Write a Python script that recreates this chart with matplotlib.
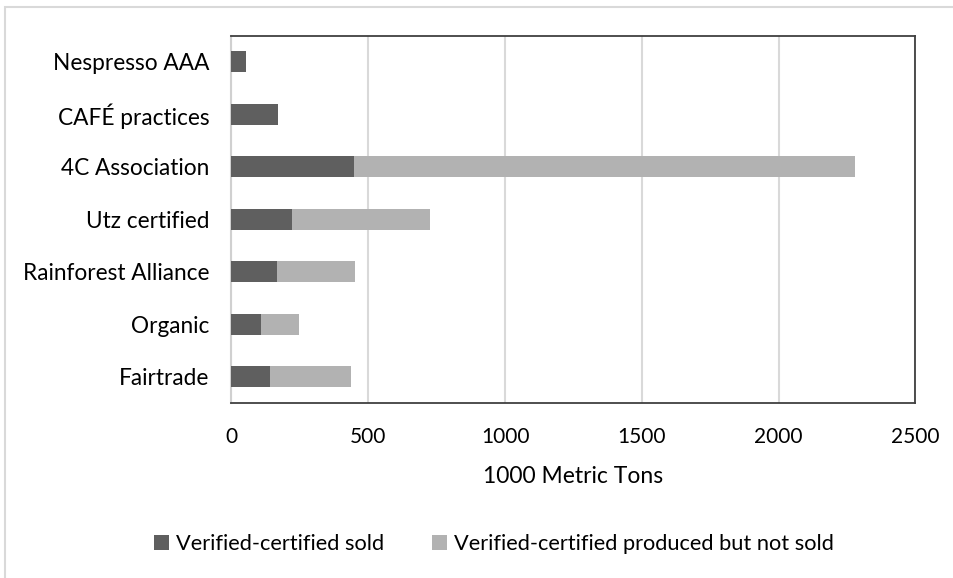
import matplotlib
matplotlib.use("Agg")
import matplotlib.pyplot as plt
from matplotlib.patches import Rectangle
import numpy as np

categories = ["Fairtrade", "Organic", "Rainforest Alliance", "Utz certified",
              "4C Association", "CAFÉ practices", "Nespresso AAA"]
sold = [141, 108, 165, 221, 448, 169, 53]
not_sold = [297, 138, 287, 505, 1832, 0, 0]
xticks = [0, 500, 1000, 1500, 2000, 2500]
series_names = ["Verified-certified sold", "Verified-certified produced but not sold"]

plt.rcParams['font.family'] = ['Lato', 'DejaVu Sans']

fig = plt.figure(figsize=(9.54, 5.78), dpi=100)
W, H = 954, 578
ax = fig.add_axes([231.5 / W, 1 - 403 / H, (915.3 - 231.5) / W, (403 - 35.5) / H])

# outer light frame
fig.patches.append(Rectangle((5 / W, -0.1), 1.2, 1 - 7 / H + 0.1, transform=fig.transFigure,
                             fill=False, edgecolor="#d9d9d9", linewidth=1.5, zorder=-1))

y = np.arange(len(categories))
ax.barh(y, sold, height=0.4, color="#5f5f5f", label=series_names[0], zorder=3)
ax.barh(y, not_sold, left=sold, height=0.4, color="#b2b2b2", label=series_names[1], zorder=3)

ax.set_xlim(0, 2500)
ax.set_ylim(-0.5, len(categories) - 0.5)
ax.set_xticks(xticks)
ax.set_xticklabels([str(t) for t in xticks], fontsize=15, color="#000000")
ax.set_yticks(y)
ax.set_yticklabels(categories, fontsize=16.3, color="#000000")
ax.tick_params(axis="both", length=0)
ax.tick_params(axis="y", pad=16)
ax.tick_params(axis="x", pad=17)
ax.xaxis.grid(True, color="#d9d9d9", linewidth=1.5, zorder=0)
ax.set_axisbelow(True)
for s in ["top", "right", "bottom"]:
    ax.spines[s].set_color("#404040")
    ax.spines[s].set_linewidth(1.3)
ax.spines["left"].set_color("#d0d0d0")
ax.spines["left"].set_linewidth(1.5)

ax.set_xlabel("1000 Metric Tons", fontsize=16.5, labelpad=14)

handles, labels = ax.get_legend_handles_labels()
fig.legend(handles, labels, loc="center", bbox_to_anchor=(494 / W, 1 - 544 / H), ncol=2,
           frameon=False, fontsize=15.7, handlelength=0.7, handleheight=0.7,
           handletextpad=0.3, columnspacing=2.2)

fig.savefig("out.png", dpi=100, facecolor="white")
